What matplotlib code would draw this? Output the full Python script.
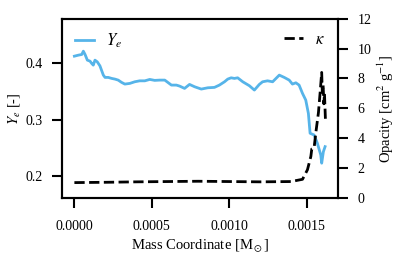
import matplotlib
matplotlib.use("Agg")
import matplotlib.pyplot as plt

plt.rcParams['font.family'] = ['Liberation Serif', 'DejaVu Serif']
plt.rcParams['mathtext.fontset'] = 'stix'
plt.rcParams['font.size'] = 10

# Electron fraction Ye vs mass coordinate [Msun]
ye_mass = [0.0, 0.0000257, 0.0000476, 0.0000579, 0.0000689, 0.0000837, 0.000101, 0.000112,
           0.000122, 0.000133, 0.000148, 0.000165, 0.000187, 0.000198, 0.000219, 0.000241,
           0.000262, 0.000283, 0.000305, 0.000326, 0.000358, 0.000390, 0.000422, 0.000455,
           0.000487, 0.000519, 0.000551, 0.000584, 0.000627, 0.000659, 0.000680, 0.000712,
           0.000744, 0.000777, 0.000820, 0.000862, 0.000905, 0.000937, 0.000970, 0.000991,
           0.001013, 0.001034, 0.001055, 0.001088, 0.001131, 0.001163, 0.001195, 0.001216,
           0.001248, 0.001281, 0.001324, 0.001356, 0.001388, 0.001409, 0.001431, 0.001452,
           0.001474, 0.001495, 0.001512, 0.001523, 0.001549, 0.001570, 0.001592, 0.001598,
           0.001609, 0.001620]
ye_vals = [0.4130, 0.4148, 0.4160, 0.4219, 0.4160, 0.4059, 0.4041, 0.4000,
           0.3970, 0.4059, 0.4028, 0.3957, 0.3792, 0.3751, 0.3751, 0.3733,
           0.3721, 0.3703, 0.3662, 0.3632, 0.3644, 0.3673, 0.3690, 0.3690,
           0.3715, 0.3698, 0.3703, 0.3703, 0.3614, 0.3614, 0.3596, 0.3555,
           0.3626, 0.3584, 0.3543, 0.3566, 0.3573, 0.3614, 0.3673, 0.3721,
           0.3744, 0.3733, 0.3744, 0.3673, 0.3602, 0.3525, 0.3626, 0.3673,
           0.3690, 0.3673, 0.3792, 0.3751, 0.3703, 0.3632, 0.3655, 0.3614,
           0.3466, 0.3347, 0.3110, 0.2755, 0.2724, 0.2577, 0.2369, 0.2221,
           0.2427, 0.2516]

# Opacity vs mass coordinate [cm^2 g^-1]
kap_mass = [0.0, 0.0002, 0.0004, 0.0006, 0.0008, 0.001, 0.0012, 0.0014, 0.001474,
            0.001506, 0.001528, 0.001534, 0.001549, 0.00156, 0.001577, 0.001588,
            0.001598, 0.001602, 0.001607, 0.001612, 0.001616, 0.001622]
kap_vals = [1.03, 1.05, 1.08, 1.1, 1.12, 1.1, 1.08, 1.1, 1.25,
            1.89, 2.78, 3.28, 3.35, 4.36, 5.71, 7.06,
            8.4, 7.06, 7.6, 6.3, 7.0, 5.3]

fig = plt.figure(figsize=(3.99, 2.57), dpi=100)
ax = fig.add_axes([0.155, 0.2296, 0.692, 0.698])
ax2 = ax.twinx()

l1, = ax.plot(ye_mass, ye_vals, color='#56B4E9', lw=2, label='$Y_e$')
l2, = ax2.plot(kap_mass, kap_vals, color='black', lw=2, ls='--', label=r'$\kappa$')

ax.set_ylim(0.16, 0.48)
ax.set_yticks([0.2, 0.3, 0.4])
ax2.set_ylim(0, 12)
ax2.set_yticks([0, 2, 4, 6, 8, 10, 12])
ax.set_xticks([0.0, 0.0005, 0.001, 0.0015])
ax.set_xticklabels(['0.0000', '0.0005', '0.0010', '0.0015'])

for a in (ax, ax2):
    for s in a.spines.values():
        s.set_linewidth(1.5)
    a.tick_params(width=1.5, length=7.5, pad=6.5, direction='out', labelsize=10)
ax.tick_params(axis='x', pad=8.5)

ax.set_xlabel(r'Mass Coordinate [M$_\odot$]', fontsize=10.5, labelpad=3)
ax.set_ylabel(r'$Y_e$ [-]', fontsize=10.5, labelpad=2)
ax2.set_ylabel(r'Opacity [cm$^2$ g$^{-1}$]', fontsize=10.5, labelpad=3)

ax.legend(handles=[l1], loc='upper left', frameon=False, fontsize=12,
          handlelength=1.15, handletextpad=0.7, borderaxespad=0.4)
ax2.legend(handles=[l2], loc='upper right', frameon=False, fontsize=12,
           handlelength=1.15, handletextpad=0.7, borderaxespad=0.4)

fig.savefig('out.png', dpi=100)
